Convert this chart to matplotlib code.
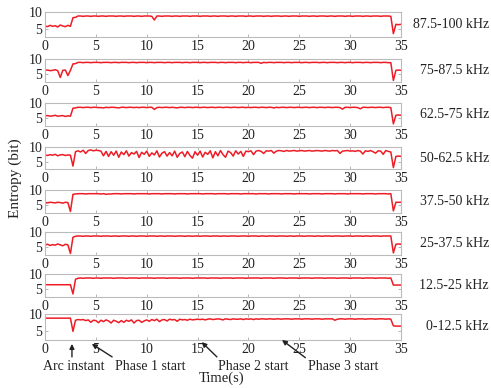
import numpy as np
import matplotlib
matplotlib.use("Agg")
import matplotlib.pyplot as plt

plt.rcParams['font.family'] = ['Liberation Serif', 'DejaVu Serif']

# time samples (s), 0.25 s step
t = np.arange(141) * 0.25

bands = ['87.5-100 kHz', '75-87.5 kHz', '62.5-75 kHz', '50-62.5 kHz',
         '37.5-50 kHz', '25-37.5 kHz', '12.5-25 kHz', '0-12.5 kHz']

# entropy (bit) per band
e_875_100 = [
    5.8, 5.6, 6.0, 5.7, 5.9, 5.5, 6.1, 5.8, 5.6, 6.0, 5.7, 8.3, 8.4, 8.8, 8.8, 8.7, 8.8, 8.8, 8.7, 8.8,
    8.8, 8.7, 8.8, 8.8, 8.7, 8.8, 8.8, 8.8, 8.7, 8.8, 8.8, 8.7, 8.8, 8.8, 8.8, 8.7, 8.8, 8.8, 8.7, 8.8,
    8.8, 8.8, 8.7, 7.6, 8.8, 8.8, 8.7, 8.8, 8.8, 8.8, 8.7, 8.8, 8.8, 8.7, 8.8, 8.8, 8.8, 8.7, 8.8, 8.8,
    8.8, 8.7, 8.8, 8.8, 8.8, 8.7, 8.8, 8.8, 8.7, 8.8, 8.8, 8.8, 8.7, 8.8, 8.8, 8.7, 8.8, 8.8, 8.8, 8.7,
    8.8, 8.8, 8.7, 8.8, 8.8, 8.8, 8.7, 8.8, 8.8, 8.7, 8.8, 8.8, 8.8, 8.7, 8.8, 8.8, 8.7, 8.8, 8.8, 8.8,
    8.7, 8.8, 8.8, 8.8, 8.7, 8.8, 8.8, 8.7, 8.8, 8.8, 8.8, 8.7, 8.8, 8.8, 8.7, 8.8, 8.8, 8.8, 8.7, 8.8,
    8.8, 8.7, 8.8, 8.8, 8.8, 8.7, 8.8, 8.8, 8.7, 8.8, 8.8, 8.8, 8.7, 8.8, 8.8, 8.8, 8.7, 3.5, 6.3, 6.2,
    6.3]
e_75_875 = [
    6.3, 6.4, 6.2, 6.3, 6.5, 6.2, 4.0, 6.3, 6.4, 4.6, 6.3, 8.4, 8.5, 8.9, 8.9, 8.8, 8.9, 8.9, 8.8, 8.9,
    8.9, 8.9, 8.8, 8.9, 8.9, 8.9, 8.8, 8.9, 8.9, 8.8, 8.9, 8.9, 8.9, 8.8, 8.9, 8.9, 8.8, 8.9, 8.9, 8.9,
    8.8, 8.9, 8.9, 8.8, 8.9, 8.9, 8.9, 8.8, 8.9, 8.9, 8.8, 8.9, 8.9, 8.9, 8.8, 8.9, 8.9, 8.8, 8.9, 8.9,
    8.9, 8.8, 8.9, 8.9, 8.8, 8.9, 8.9, 8.9, 8.8, 8.9, 8.9, 8.8, 8.9, 8.9, 8.9, 8.8, 8.9, 8.9, 8.8, 8.9,
    8.9, 8.8, 8.9, 8.9, 8.9, 8.6, 8.9, 8.8, 8.9, 8.9, 8.8, 8.9, 8.9, 8.9, 8.8, 8.9, 8.9, 8.8, 8.9, 8.9,
    8.9, 8.8, 8.9, 8.9, 8.8, 8.9, 8.9, 8.9, 8.8, 8.9, 8.9, 8.8, 8.9, 8.9, 8.9, 8.8, 8.9, 8.9, 8.8, 8.9,
    8.9, 8.8, 8.9, 8.9, 8.9, 8.8, 8.9, 8.9, 8.8, 8.9, 8.9, 8.9, 8.8, 8.9, 8.9, 8.8, 8.8, 3.0, 6.3, 6.4,
    6.3]
e_625_75 = [
    5.8, 5.9, 5.7, 5.8, 6.0, 5.7, 5.8, 5.9, 5.6, 5.8, 5.7, 8.3, 8.4, 8.6, 8.6, 8.5, 8.6, 8.6, 8.5, 8.6,
    8.6, 8.5, 8.5, 8.4, 8.6, 8.5, 8.6, 8.6, 8.5, 8.4, 8.6, 8.6, 8.5, 8.6, 8.6, 8.5, 8.6, 8.5, 8.6, 8.6,
    8.5, 8.6, 8.6, 7.9, 8.5, 8.6, 8.5, 8.6, 8.6, 8.5, 8.6, 8.5, 8.4, 8.6, 8.6, 8.5, 8.6, 8.6, 8.5, 8.6,
    8.6, 8.5, 8.6, 8.6, 8.5, 8.6, 8.6, 8.5, 8.6, 8.6, 8.5, 8.6, 8.6, 8.5, 8.6, 8.6, 8.5, 8.6, 8.6, 8.5,
    8.6, 8.5, 8.6, 8.6, 8.5, 8.6, 8.6, 8.5, 8.6, 8.6, 8.4, 8.6, 8.5, 8.6, 8.6, 8.5, 8.6, 8.6, 8.5, 8.6,
    8.6, 8.5, 8.6, 8.6, 8.5, 8.6, 8.6, 8.5, 8.6, 8.6, 8.5, 8.6, 8.6, 8.5, 8.6, 8.6, 8.5, 8.0, 8.6, 8.6,
    8.5, 8.6, 8.6, 8.5, 8.1, 8.6, 8.6, 8.5, 8.6, 8.6, 8.5, 8.6, 8.6, 8.5, 8.6, 8.6, 8.5, 3.2, 6.0, 6.1,
    6.0]
e_50_625 = [
    7.3, 7.1, 7.4, 7.2, 7.5, 7.0, 7.3, 7.4, 7.1, 7.3, 7.2, 3.5, 8.4, 8.7, 8.3, 8.9, 7.8, 8.8, 9.0, 8.7,
    8.9, 8.8, 8.6, 7.0, 8.5, 6.8, 8.4, 7.2, 8.6, 6.5, 8.3, 7.4, 8.7, 6.9, 8.1, 7.6, 8.5, 6.4, 8.2, 7.5,
    8.6, 6.8, 8.0, 7.3, 8.7, 6.6, 7.9, 8.4, 6.9, 8.1, 7.0, 8.6, 6.5, 7.8, 8.3, 6.7, 8.5, 7.1, 6.2, 8.4,
    7.2, 8.6, 6.6, 8.2, 7.5, 8.7, 6.3, 8.4, 7.0, 8.8, 7.4, 6.5, 8.6, 8.1, 6.9, 8.7, 7.6, 8.5, 6.8, 8.6,
    8.4, 8.7, 7.4, 8.6, 8.8, 8.5, 7.8, 8.7, 8.6, 8.8, 7.9, 8.6, 8.8, 8.7, 8.5, 8.8, 8.6, 8.7, 8.8, 8.6,
    8.7, 8.8, 8.6, 8.7, 8.8, 8.6, 8.7, 8.8, 8.7, 8.6, 8.8, 8.7, 8.6, 8.8, 8.7, 8.8, 7.8, 8.6, 8.7, 8.8,
    8.6, 8.7, 8.5, 8.8, 8.6, 7.6, 8.7, 8.5, 8.8, 8.4, 7.9, 8.7, 8.6, 7.5, 8.8, 8.5, 8.3, 3.0, 6.8, 6.9,
    6.8]
e_375_50 = [
    5.9, 5.8, 6.0, 5.9, 5.8, 6.0, 5.9, 5.7, 6.0, 5.9, 3.0, 8.6, 8.7, 8.8, 8.8, 8.8, 8.7, 8.8, 8.8, 8.8,
    8.8, 8.8, 8.7, 8.8, 8.6, 8.7, 8.7, 8.8, 8.8, 8.8, 8.7, 8.8, 8.8, 8.8, 8.8, 8.7, 8.8, 8.8, 8.8, 8.8,
    8.8, 8.7, 8.8, 8.8, 8.8, 8.8, 8.7, 8.8, 8.8, 8.8, 8.8, 8.7, 8.8, 8.8, 8.8, 8.8, 8.7, 8.8, 8.8, 8.8,
    8.8, 8.8, 8.7, 8.8, 8.8, 8.8, 8.8, 8.7, 8.8, 8.8, 8.8, 8.8, 8.7, 8.8, 8.8, 8.8, 8.8, 8.7, 8.8, 8.8,
    8.8, 8.8, 8.8, 8.7, 8.8, 8.8, 8.8, 8.8, 8.7, 8.8, 8.8, 8.8, 8.8, 8.7, 8.8, 8.8, 8.8, 8.8, 8.7, 8.8,
    8.8, 8.8, 8.8, 8.8, 8.7, 8.8, 8.8, 8.8, 8.8, 8.7, 8.8, 8.8, 8.8, 8.8, 8.7, 8.8, 8.8, 8.8, 8.8, 8.7,
    8.8, 8.8, 8.8, 8.8, 8.8, 8.7, 8.8, 8.8, 8.8, 8.8, 8.7, 8.8, 8.8, 8.8, 8.8, 8.7, 8.8, 3.2, 6.0, 6.0,
    6.0]
e_25_375 = [
    5.8, 6.0, 5.6, 5.9, 5.7, 6.1, 5.8, 5.5, 6.0, 5.8, 3.0, 8.3, 8.6, 8.7, 8.7, 8.6, 8.7, 8.7, 8.6, 8.7,
    8.7, 8.7, 8.6, 8.7, 8.7, 8.7, 8.6, 8.7, 8.7, 8.6, 8.7, 8.7, 8.7, 8.6, 8.7, 8.7, 8.6, 8.7, 8.7, 8.7,
    8.6, 8.7, 8.7, 8.7, 8.6, 8.7, 8.7, 8.6, 8.7, 8.7, 8.7, 8.6, 8.7, 8.7, 8.7, 8.6, 8.7, 8.7, 8.6, 8.7,
    8.7, 8.6, 8.7, 8.7, 8.7, 8.6, 8.7, 8.7, 8.7, 8.6, 8.7, 8.7, 8.6, 8.7, 8.7, 8.7, 8.6, 8.7, 8.7, 8.7,
    8.6, 8.7, 8.7, 8.7, 8.6, 8.7, 8.7, 8.6, 8.7, 8.7, 8.7, 8.6, 8.7, 8.7, 8.7, 8.6, 8.7, 8.7, 8.6, 8.7,
    8.7, 8.7, 8.6, 8.7, 8.7, 8.7, 8.6, 8.7, 8.7, 8.6, 8.7, 8.7, 8.7, 8.6, 8.7, 8.7, 8.7, 8.6, 8.7, 8.7,
    8.7, 8.6, 8.7, 8.7, 8.7, 8.6, 8.7, 8.7, 8.6, 8.7, 8.7, 8.7, 8.6, 8.7, 8.7, 8.7, 8.7, 3.2, 6.0, 6.1,
    6.0]
e_125_25 = [
    6.5, 6.5, 6.5, 6.5, 6.5, 6.5, 6.5, 6.5, 6.5, 6.5, 6.5, 3.5, 8.3, 8.6, 8.7, 8.6, 8.7, 8.7, 8.7, 8.6,
    8.7, 8.7, 8.6, 8.7, 8.7, 8.7, 8.7, 8.6, 8.7, 8.7, 8.7, 8.7, 8.6, 8.7, 8.7, 8.7, 8.7, 8.6, 8.7, 8.7,
    8.7, 8.7, 8.7, 8.6, 8.7, 8.7, 8.7, 8.7, 8.6, 8.7, 8.7, 8.7, 8.7, 8.6, 8.7, 8.7, 8.7, 8.7, 8.6, 8.7,
    8.7, 8.7, 8.7, 8.7, 8.6, 8.7, 8.7, 8.7, 8.7, 8.6, 8.7, 8.7, 8.7, 8.7, 8.6, 8.7, 8.7, 8.7, 8.7, 8.6,
    8.7, 8.7, 8.7, 8.7, 8.7, 8.6, 8.7, 8.7, 8.7, 8.7, 8.6, 8.7, 8.7, 8.7, 8.7, 8.6, 8.7, 8.7, 8.7, 8.7,
    8.6, 8.7, 8.7, 8.7, 8.7, 8.6, 8.7, 8.7, 8.7, 8.7, 8.6, 8.7, 8.7, 8.7, 8.7, 8.6, 8.7, 8.7, 8.7, 8.7,
    8.6, 8.7, 8.7, 8.7, 8.7, 8.6, 8.7, 8.7, 8.7, 8.7, 8.6, 8.7, 8.7, 8.7, 8.7, 8.6, 8.7, 6.4, 6.4, 6.4,
    6.4]
e_0_125 = [
    8.8, 8.8, 8.8, 8.8, 8.8, 8.8, 8.8, 8.8, 8.8, 8.8, 8.8, 5.0, 8.2, 8.4, 8.3, 8.4, 8.1, 8.3, 7.6, 8.2,
    8.1, 7.5, 8.2, 7.8, 8.3, 8.0, 7.4, 8.2, 7.9, 7.5, 8.1, 7.6, 8.2, 7.9, 8.3, 7.4, 8.1, 8.2, 7.6, 8.0,
    8.3, 7.9, 8.4, 8.1, 8.5, 7.8, 8.3, 8.4, 8.0, 8.5, 8.3, 8.4, 7.9, 8.5, 8.3, 8.4, 8.2, 8.5, 8.3, 8.4,
    8.5, 8.4, 8.5, 8.3, 8.5, 8.6, 8.4, 8.5, 8.6, 8.5, 8.3, 8.6, 8.5, 8.4, 8.6, 8.5, 8.5, 8.6, 8.4, 8.6,
    8.5, 8.6, 8.4, 8.6, 8.5, 8.6, 8.6, 8.5, 8.6, 8.6, 8.5, 8.6, 8.6, 8.5, 8.6, 8.6, 8.6, 8.5, 8.6, 8.6,
    8.6, 8.5, 8.6, 8.6, 8.6, 8.5, 8.6, 8.6, 8.6, 8.5, 8.6, 8.6, 8.6, 8.6, 8.2, 8.5, 8.6, 8.6, 8.5, 8.6,
    8.6, 8.6, 8.5, 8.6, 8.6, 8.6, 8.5, 8.6, 8.6, 8.6, 8.5, 8.6, 8.6, 8.6, 8.5, 8.6, 8.5, 6.6, 6.5, 6.5,
    6.5]

series = [e_875_100, e_75_875, e_625_75, e_50_625,
          e_375_50, e_25_375, e_125_25, e_0_125]

W, H = 491, 388
fig = plt.figure(figsize=(W / 100, H / 100), dpi=100)

# panel extents in pixels (top, bottom)
tops = [12, 59, 103, 147, 190, 232, 274, 314]
bots = [37, 82, 126, 169, 213, 255, 297, 340]
x0, x1 = 45, 401

axes = []
for k in range(8):
    ax = fig.add_axes([x0 / W, 1 - bots[k] / H, (x1 - x0) / W, (bots[k] - tops[k]) / H])
    ax.plot(t, series[k], color='#ee1c25', lw=1.1)
    ax.set_xlim(0, 35)
    ax.set_ylim(2.5, 10)
    ax.set_xticks(np.arange(0, 36, 5))
    ax.set_yticks([5, 10])
    ax.tick_params(direction='in', length=2.5, width=0.6, color='#aaaaaa',
                   labelsize=10, labelcolor='#222222', pad=2, top=True, right=True)
    for s in ax.spines.values():
        s.set_color('#bbbbbb')
        s.set_linewidth(0.8)
    ax.text(1.247, 0.5, bands[k], transform=ax.transAxes, ha='right', va='center',
            fontsize=10, color='#222222')
    axes.append(ax)

fig.text(15 / W, 1 - 178 / H, 'Entropy (bit)', rotation=90, ha='center', va='center',
         fontsize=11, color='#222222')
fig.text(222 / W, 1 - 378 / H, 'Time(s)', ha='center', va='center', fontsize=10.5,
         color='#222222')

# event markers under the last panel
ax = axes[-1]
tr = ax.get_xaxis_transform()
arrows = [(2.65, -0.15, 2.65, -0.65), (4.6, -0.15, 6.6, -0.65),
          (15.4, -0.08, 16.9, -0.65), (23.3, 0.0, 25.6, -0.68)]
for hx, hy, tx, ty in arrows:
    ax.annotate('', xy=(hx, hy), xytext=(tx, ty), xycoords=tr, textcoords=tr,
                arrowprops=dict(arrowstyle='-|>', color='#222222', lw=1.0,
                                mutation_scale=7, shrinkA=0, shrinkB=0),
                annotation_clip=False)
labels = [(2.8, 'center', 'Arc instant'), (6.88, 'left', 'Phase 1 start'),
          (17.0, 'left', 'Phase 2 start'), (25.86, 'left', 'Phase 3 start')]
for lx, ha, s in labels:
    ax.text(lx, -1.0, s, transform=tr, ha=ha, va='center', fontsize=10, color='#222222')

fig.savefig('out.png', dpi=100)
